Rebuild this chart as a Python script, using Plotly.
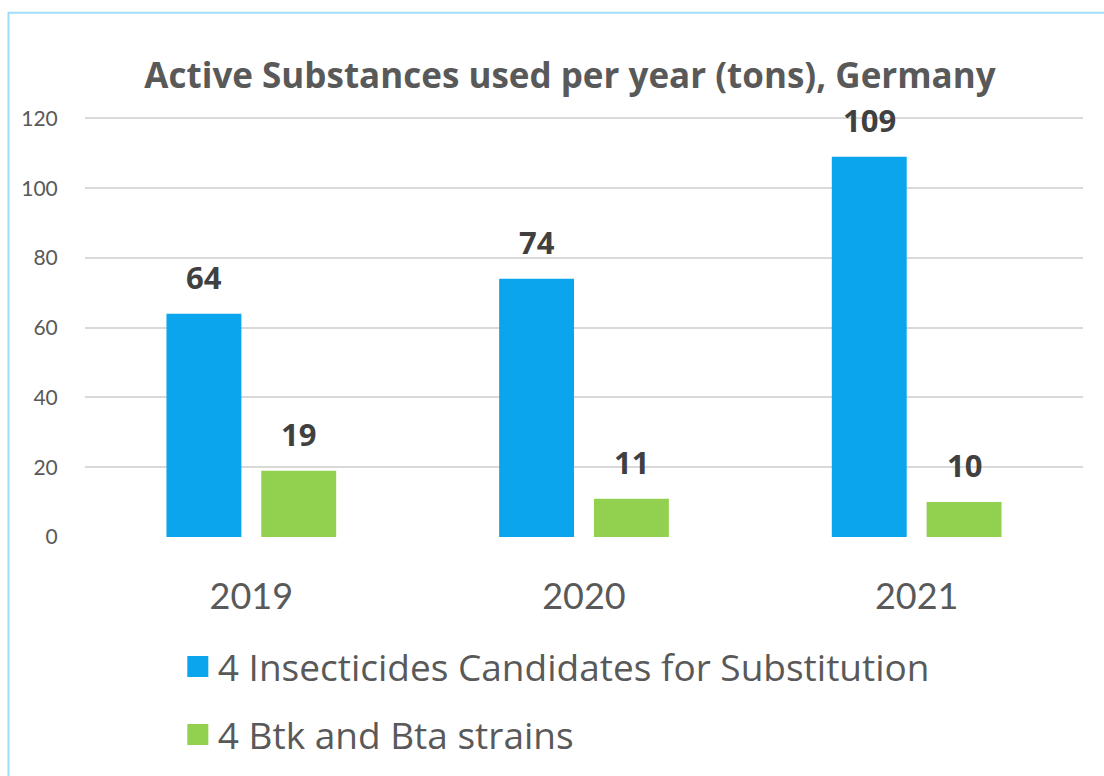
import plotly.graph_objects as go

years = ["2019", "2020", "2021"]
insecticides = [64, 74, 109]
btk_bta = [19, 11, 10]
series_names = ["4 Insecticides Candidates for Substitution", "4 Btk and Bta strains"]
colors = ["#0AA5EC", "#92D050"]
y_ticks = [0, 20, 40, 60, 80, 100, 120]

FONT = "Open Sans, Lato, sans-serif"
TXT = "#595959"

fig = go.Figure()
for vals, name, col in zip([insecticides, btk_bta], series_names, colors):
    fig.add_trace(go.Bar(x=years, y=vals, name=name, marker_color=col,
                         marker_line_width=0, showlegend=False))

# legend entries
for i, (name, col) in enumerate(zip(series_names, colors)):
    fig.add_trace(go.Scatter(x=[years[0]], y=[None], mode="markers", name=name,
                             marker=dict(symbol="square", size=16, color=col,
                                         line=dict(color=col, width=8)),
                             legend="legend" if i == 0 else "legend2"))

# data labels (x given as category index)
offsets = [-47.5, 47.5]
for vals, off in zip([insecticides, btk_bta], offsets):
    for i, v in enumerate(vals):
        fig.add_annotation(x=i, y=v, text=f"<b>{v}</b>", showarrow=False,
                           xshift=off, yshift=14, yanchor="bottom",
                           font=dict(size=31, color="#404040", family=FONT))

leg_common = dict(orientation="v", xanchor="left", yanchor="middle",
                  font=dict(size=37, color=TXT, family=FONT),
                  bgcolor="rgba(0,0,0,0)", itemwidth=30)

fig.update_layout(
    width=1104, height=776,
    margin=dict(l=85, r=21, t=117, b=238),
    paper_bgcolor="white", plot_bgcolor="white",
    title=dict(text="<b>Active Substances used per year (tons), Germany</b>",
               x=570 / 1104, xanchor="center", y=1 - 76 / 776, yanchor="middle",
               font=dict(size=35, color=TXT, family=FONT)),
    barmode="group", bargap=0.43, bargroupgap=0.21,
    xaxis=dict(type="category", range=[-0.5, len(years) - 0.5],
               tickfont=dict(size=36, color=TXT, family="Lato, sans-serif"),
               showline=False, ticks="outside", ticklen=28,
               tickcolor="rgba(0,0,0,0)"),
    yaxis=dict(range=[0, 120.4], tickvals=y_ticks, showgrid=True,
               gridcolor="#D9D9D9", gridwidth=2, zeroline=False,
               tickfont=dict(size=21, color=TXT, family="Lato, sans-serif"),
               ticks="outside", ticklen=22, tickcolor="rgba(0,0,0,0)"),
    legend=dict(x=0.093, y=-0.306, **leg_common),
    legend2=dict(x=0.093, y=-0.468, **leg_common),
    shapes=[dict(type="rect", xref="paper", yref="paper",
                 x0=(8.5 - 85) / 998, x1=(1110 - 85) / 998,
                 y0=(238 - 790) / 421, y1=1 + (117 - 12.5) / 421,
                 line=dict(color="#A0DDF8", width=2), fillcolor="rgba(0,0,0,0)",
                 layer="below")],
)

fig.write_html("out.html")
